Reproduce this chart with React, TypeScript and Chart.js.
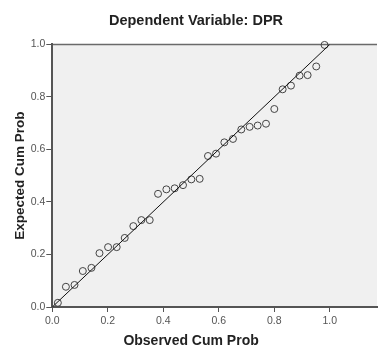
import React, { useEffect, useRef } from "react";
import { Chart, registerables } from "chart.js";

Chart.register(...registerables);

const TITLE = "Dependent Variable: DPR";
const X_TITLE = "Observed Cum Prob";
const Y_TITLE = "Expected Cum Prob";

const OBSERVED = [
  0.020, 0.049, 0.080, 0.110, 0.141, 0.170, 0.201, 0.232, 0.261, 0.292, 0.321,
  0.351, 0.381, 0.411, 0.441, 0.471, 0.501, 0.531, 0.561, 0.590, 0.620, 0.651,
  0.681, 0.711, 0.740, 0.770, 0.800, 0.830, 0.860, 0.891, 0.920, 0.951, 0.981,
];
const EXPECTED = [
  0.016, 0.077, 0.084, 0.137, 0.149, 0.205, 0.228, 0.228, 0.263, 0.308, 0.331,
  0.331, 0.431, 0.448, 0.452, 0.464, 0.486, 0.488, 0.575, 0.584, 0.627, 0.640,
  0.676, 0.686, 0.691, 0.698, 0.754, 0.829, 0.843, 0.881, 0.883, 0.916, 0.998,
];
const LINE_X = [0, 1];
const LINE_Y = [0, 1];
const X_TICKS = [0, 0.2, 0.4, 0.6, 0.8, 1.0];
const Y_TICKS = [0, 0.2, 0.4, 0.6, 0.8, 1.0];
const X_MAX = 1.17;

const FONT = "'Liberation Sans', Arial, sans-serif";

export default function App() {
  const ref = useRef<HTMLCanvasElement | null>(null);

  useEffect(() => {
    if (!ref.current) return;
    const bgPlugin = {
      id: "bgPlugin",
      beforeDraw(chart: any) {
        const { ctx, chartArea } = chart;
        ctx.save();
        ctx.fillStyle = "#f0f0f0";
        ctx.fillRect(chartArea.left, chartArea.top, chartArea.right - chartArea.left, chartArea.bottom - chartArea.top);
        ctx.strokeStyle = "#6a6a6a";
        ctx.lineWidth = 1.5;
        ctx.beginPath();
        ctx.moveTo(chartArea.left, chartArea.top);
        ctx.lineTo(chartArea.right, chartArea.top);
        ctx.stroke();
        ctx.restore();
      },
      afterDraw(chart: any) {
        const { ctx } = chart;
        const xs = chart.scales.x;
        ctx.save();
        ctx.fillStyle = "#222";
        ctx.font = `bold 14px ${FONT}`;
        ctx.textAlign = "center";
        ctx.textBaseline = "middle";
        ctx.fillText(X_TITLE, xs.getPixelForValue(0.5), 341.5);
        ctx.restore();
      },
    };

    const chart = new Chart(ref.current, {
      type: "scatter",
      data: {
        datasets: [
          {
            type: "line",
            data: LINE_X.map((x, i) => ({ x, y: LINE_Y[i] })),
            borderColor: "#111",
            borderWidth: 1,
            pointRadius: 0,
            fill: false,
          } as any,
          {
            data: OBSERVED.map((x, i) => ({ x, y: EXPECTED[i] })),
            pointStyle: "circle",
            pointRadius: 3.5,
            pointBorderWidth: 1,
            pointBorderColor: "#444",
            pointBackgroundColor: "rgba(0,0,0,0)",
            borderColor: "#444",
            backgroundColor: "rgba(0,0,0,0)",
            clip: false,
          } as any,
        ],
      },
      options: {
        animation: false,
        responsive: false,
        layout: { padding: { left: 10, right: 0, top: 0, bottom: 0 } },
        plugins: {
          legend: { display: false },
          tooltip: { enabled: false },
          title: {
            display: true,
            text: TITLE,
            color: "#222",
            font: { family: FONT, size: 14.5, weight: "bold" },
            padding: { top: 12, bottom: 15 },
          },
        },
        scales: {
          x: {
            type: "linear",
            min: 0,
            max: X_MAX,
            afterBuildTicks: (s: any) => {
              s.ticks = X_TICKS.map((v) => ({ value: v }));
            },
            afterFit: (s: any) => {
              s.height = 40;
            },
            ticks: {
              color: "#555",
              font: { family: FONT, size: 10.5 },
              padding: 3,
              callback: (v: any) => Number(v).toFixed(1),
            },
            grid: { drawOnChartArea: false, drawTicks: true, tickLength: 5, color: "#555" },
            border: { display: true, color: "#555", width: 2 },
          },
          y: {
            type: "linear",
            min: 0,
            max: 1,
            afterBuildTicks: (s: any) => {
              s.ticks = Y_TICKS.map((v) => ({ value: v }));
            },
            afterFit: (s: any) => {
              s.width = 42.3;
            },
            title: {
              display: true,
              text: Y_TITLE,
              color: "#222",
              font: { family: FONT, size: 13.5, weight: "bold" },
              padding: { top: 2, bottom: 0 },
            },
            ticks: {
              color: "#555",
              font: { family: FONT, size: 10.5 },
              padding: 1,
              callback: (v: any) => Number(v).toFixed(1),
            },
            grid: { drawOnChartArea: false, drawTicks: true, tickLength: 6, color: "#555" },
            border: { display: true, color: "#555", width: 2 },
          },
        },
      },
      plugins: [bgPlugin],
    });
    return () => chart.destroy();
  }, []);

  return (
    <div style={{ position: "fixed", left: 0, top: 0, width: 382, height: 347, background: "#fff" }}>
      <canvas ref={ref} width={382} height={347} style={{ display: "block" }} />
    </div>
  );
}
